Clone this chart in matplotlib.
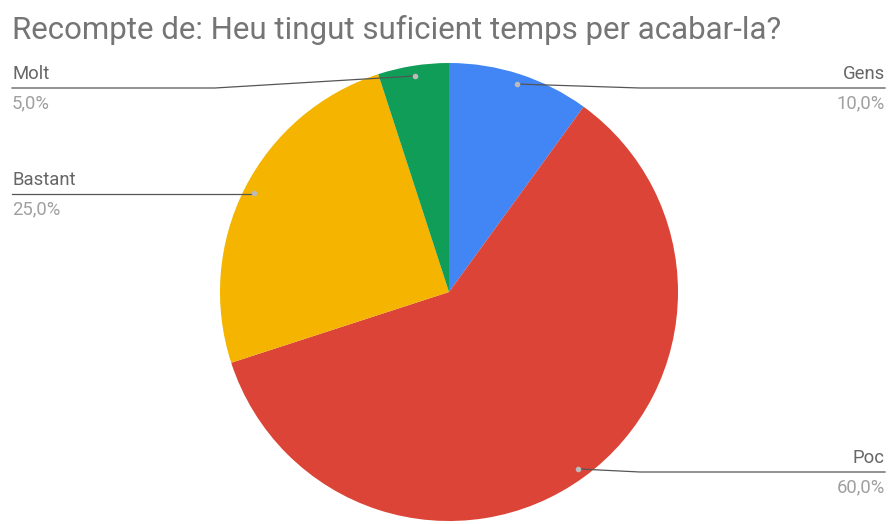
import numpy as np
import matplotlib.pyplot as plt

plt.rcParams['font.family'] = ['Roboto', 'DejaVu Sans']

labels = ['Gens', 'Poc', 'Bastant', 'Molt']
values = [10.0, 60.0, 25.0, 5.0]
colors = ['#4285F4', '#DB4437', '#F4B400', '#0F9D58']
pct_labels = ['10,0%', '60,0%', '25,0%', '5,0%']

W, H = 891, 524
fig = plt.figure(figsize=(W / 100, H / 100), dpi=100)
ax = fig.add_axes([0, 0, 1, 1])
ax.set_xlim(0, W)
ax.set_ylim(H, 0)
ax.set_aspect('equal')
ax.axis('off')

cx, cy, R = 449, 292, 229
# y axis is inverted, so counterclockwise in data = clockwise on screen
ax.pie(values, colors=colors, center=(cx, cy), radius=R, startangle=-90,
       counterclock=True, wedgeprops=dict(linewidth=0))
ax.set_xlim(0, W)
ax.set_ylim(H, 0)

# label layout: (side, line y)
layout = {'Gens': ('right', 88), 'Poc': ('right', 472),
          'Bastant': ('left', 194), 'Molt': ('left', 88)}

total = sum(values)
start = 0.0
for lab, v, pct in zip(labels, values, pct_labels):
    mid = (start + v / 2) / total * 2 * np.pi
    start += v
    dx = cx + 0.955 * R * np.sin(mid)
    dy = cy - 0.955 * R * np.cos(mid)
    side, ly = layout[lab]
    if side == 'right':
        xe, ha = 885, 'right'
        xk = max(dx + 20, 640)
    else:
        xe, ha = 12, 'left'
        xk = min(dx - 20, 215) if lab == 'Molt' else dx
    ax.plot([dx, xk, xe], [dy, ly, ly], color='#555555', lw=0.9, zorder=5)
    ax.text(xe, ly - 5, lab, ha=ha, va='bottom', fontsize=13.3, color='#666666')
    ax.text(xe, ly + 6, pct, ha=ha, va='top', fontsize=13.3, color='#a0a0a0')
    ax.plot(dx, dy, 'o', ms=3, color='#bbbbbb', zorder=6)

ax.text(12, 30, 'Recompte de: Heu tingut suficient temps per acabar-la?',
        ha='left', va='center', fontsize=22.5, color='#757575')

fig.savefig('out.png', dpi=100)
